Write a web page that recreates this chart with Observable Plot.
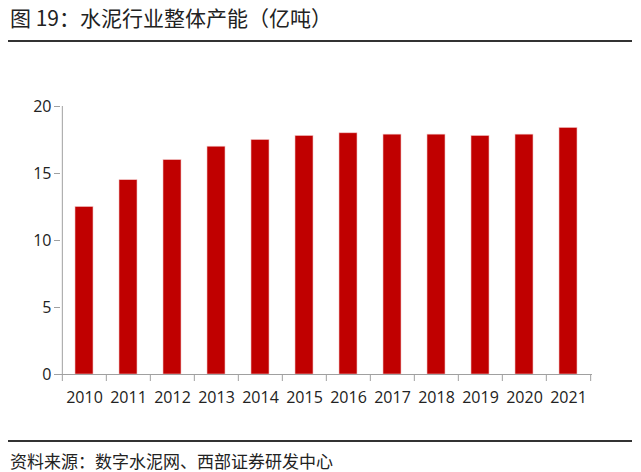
<!DOCTYPE html>
<html><head><meta charset="utf-8">
<script src="https://cdn.jsdelivr.net/npm/d3@7"></script>
<script src="https://cdn.jsdelivr.net/npm/@observablehq/plot@0.6"></script>
<style>
body{margin:0;background:#fff;}
#wrap{position:relative;width:641px;height:472px;overflow:hidden;font-family:"Noto Sans CJK SC",sans-serif;color:#222;}
#title{position:absolute;left:10px;top:3px;font-size:21px;line-height:28px;white-space:nowrap;}
.hl{position:absolute;left:8px;width:624px;height:2px;background:#333;}
#cap{position:absolute;left:10px;top:449px;font-size:17px;line-height:24px;white-space:nowrap;}
#chart{position:absolute;left:0;top:50px;}
</style></head>
<body><div id="wrap">
<div id="title">图 19：水泥行业整体产能（亿吨）</div>
<div class="hl" style="top:40px"></div>
<div id="chart"></div>
<div class="hl" style="top:440px"></div>
<div id="cap">资料来源：数字水泥网、西部证券研发中心</div>
</div>
<script>
const years = ["2010","2011","2012","2013","2014","2015","2016","2017","2018","2019","2020","2021"];
const capacity = [12.5,14.5,16.0,17.0,17.5,17.8,18.0,17.9,17.9,17.8,17.9,18.4];
const yTicks = [0,5,10,15,20];

const data = years.map((y,i)=>({year:y, value:capacity[i]}));
const W = 641, ml = 60, mr = 49;
const step = (W - ml - mr) / years.length;
const axisColor = "#a0a0a0";

const plot = Plot.plot({
  width: W, height: 380,
  marginLeft: ml, marginRight: mr, marginTop: 56, marginBottom: 56,
  style: {fontFamily: "'Open Sans', sans-serif", fontSize: "16px", color: "#222", background: "#fff"},
  x: {domain: years, paddingInner: 0.59, paddingOuter: 0.295, label: null},
  y: {domain: [0,20], ticks: yTicks, label: null},
  marks: [
    Plot.barY(data, {x:"year", y:"value", fill:"#C00000", stroke:"#f2c4c4", strokeWidth:0.6}),
    Plot.axisY({ticks: yTicks, tickSize: 6, tickPadding: 3, stroke: axisColor, fill:"#222", fontSize: 16, label: null}),
    Plot.ruleX([years[0]], {x: d=>d, dx: -step/2, y1: 0, y2: 20, stroke: axisColor}),
    Plot.axisX({tickSize: 0, tickPadding: 17, fill:"#222", fontSize: 16, label: null}),
    Plot.ruleY([0], {stroke: axisColor}),
    // tick marks at band boundaries, below the axis
    Plot.ruleX(years, {x: d=>d, dx: -step/2, y1: 0, y2: 0, insetBottom: -7, stroke: axisColor}),
    Plot.ruleX([years[years.length-1]], {x: d=>d, dx: step/2, y1: 0, y2: 0, insetBottom: -7, stroke: axisColor})
  ]
});
document.getElementById("chart").appendChild(plot);
</script>
</body></html>
